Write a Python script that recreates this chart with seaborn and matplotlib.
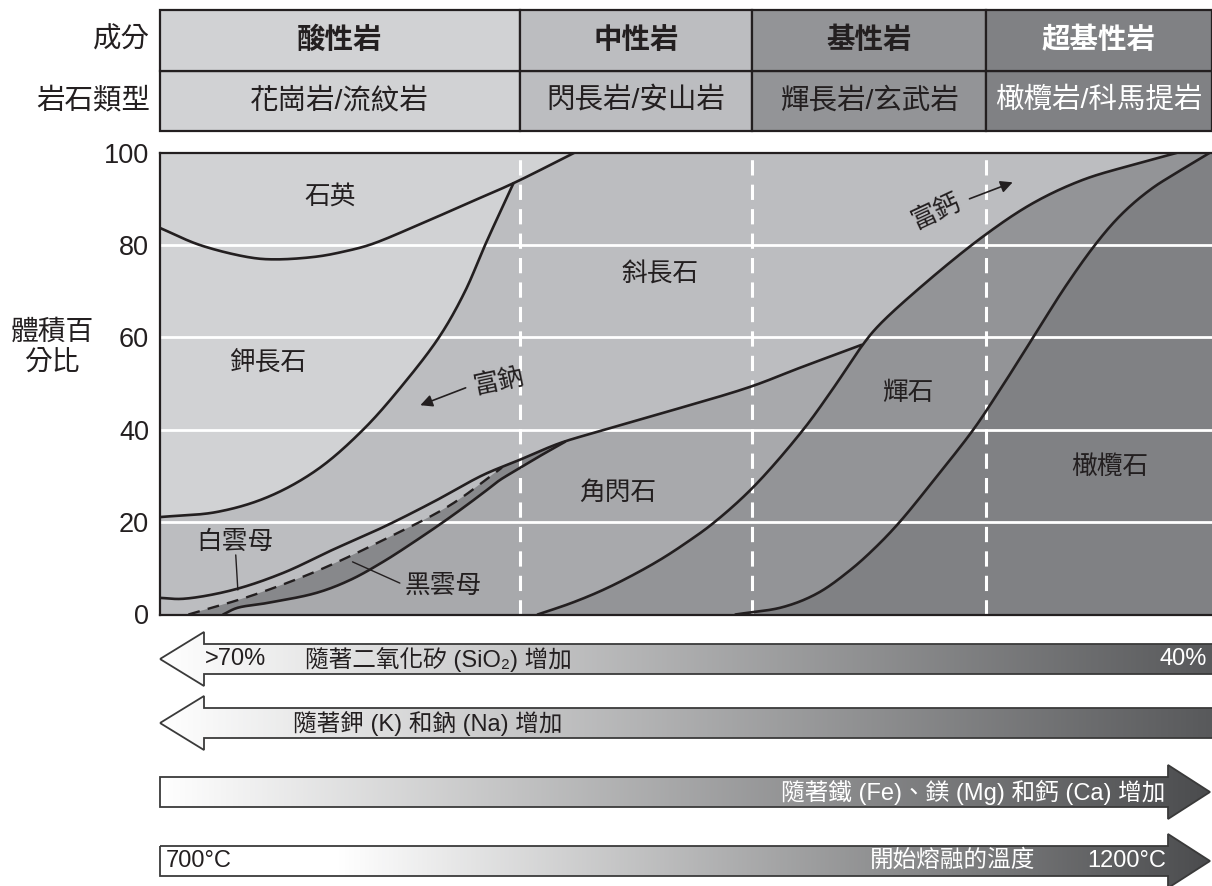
import numpy as np
import pandas as pd
import matplotlib
matplotlib.use("Agg")
import matplotlib.pyplot as plt
import seaborn as sns
from matplotlib.patches import Polygon, Rectangle
from matplotlib.colors import LinearSegmentedColormap

# ---------------- data ----------------
groups = ["酸性岩", "中性岩", "基性岩", "超基性岩"]
rock_types = ["花崗岩/流紋岩", "閃長岩/安山岩", "輝長岩/玄武岩", "橄欖岩/科馬提岩"]
group_bounds = [0, 34.2, 56.3, 78.5, 100]
group_colors = ["#d1d2d4", "#bcbdc0", "#939497", "#808184"]
y_ticks = [0, 20, 40, 60, 80, 100]

quartz_x = [0, 3.8, 8.6, 11.0, 14.9, 17.5, 20.0, 24.4, 29.2, 33.6, 39.4]
quartz_y = [83.7, 80.0, 77.3, 76.9, 77.5, 78.6, 80.1, 84.2, 89.0, 93.4, 100]

kfs_x = [0, 5.4, 10.2, 14.9, 19.3, 23.1, 26.6, 29.0, 30.9, 33.6]
kfs_y = [21.1, 22.2, 25.4, 31.3, 40.0, 49.8, 60.3, 70.0, 80.0, 93.4]

plag_x = [0, 2.2, 6.9, 11.7, 16.4, 21.2, 26.0, 30.7, 34.2, 38.0, 41.8, 48.2, 56.1, 60.8, 66.7]
plag_y = [3.6, 3.4, 5.3, 9.0, 14.0, 18.9, 24.4, 30.2, 33.5, 37.1, 39.7, 43.9, 49.3, 53.4, 58.4]

musc_x = [2.7, 8.6, 14.9, 21.2, 27.6, 32.5]
musc_y = [0, 4.0, 9.4, 16.1, 23.7, 31.8]

bt_x = [6.0, 7.3, 10.2, 14.9, 18.1, 21.2, 24.4, 27.6, 30.7, 32.3, 33.9, 36.1, 38.5]
bt_y = [0, 1.4, 2.5, 4.7, 7.5, 11.4, 16.1, 21.1, 26.3, 29.1, 31.3, 34.3, 37.4]

amph_x = [35.9, 39.0, 41.8, 44.5, 47.5, 50.0, 52.6, 56.4, 61.1, 64.0, 66.8, 68.2, 72.0, 78.2, 83.0, 87.7, 92.5, 96.7]
amph_y = [0, 2.4, 5.0, 8.0, 11.8, 15.5, 19.8, 27.6, 39.9, 49.0, 58.4, 62.3, 70.3, 81.8, 89.1, 94.1, 97.4, 100]

pyx_x = [54.7, 59.2, 62.5, 65.6, 68.0, 70.3, 73.7, 77.3, 79.8, 83.0, 86.0, 88.7, 90.7, 92.5, 94.5, 96.3, 99.8]
pyx_y = [0, 1.6, 4.6, 9.6, 14.5, 20.0, 29.5, 40.0, 48.5, 60.0, 70.8, 79.5, 85.0, 89.0, 92.6, 95.2, 100]

C_LIGHT, C_PLAG, C_AMPH, C_BT, C_PYX, C_OL = "#d1d2d4", "#bcbdc0", "#a8a9ac", "#87888b", "#939497", "#808184"
INK = "#231f20"

# ---------------- helpers ----------------
SX, SY = 10.52, 4.618  # axis units -> pixels, used only for curve smoothing


def catmull(xs, ys, n=30, alpha=0.5):
    P = np.column_stack([np.asarray(xs) * SX, np.asarray(ys) * SY]).astype(float)
    P = np.vstack([2 * P[0] - P[1], P, 2 * P[-1] - P[-2]])
    segs = []
    for i in range(1, len(P) - 2):
        p0, p1, p2, p3 = P[i - 1], P[i], P[i + 1], P[i + 2]
        t0 = 0.0
        t1 = t0 + np.linalg.norm(p1 - p0) ** alpha
        t2 = t1 + np.linalg.norm(p2 - p1) ** alpha
        t3 = t2 + np.linalg.norm(p3 - p2) ** alpha
        t = np.linspace(t1, t2, n, endpoint=False)[:, None]
        A1 = (t1 - t) / (t1 - t0) * p0 + (t - t0) / (t1 - t0) * p1
        A2 = (t2 - t) / (t2 - t1) * p1 + (t - t1) / (t2 - t1) * p2
        A3 = (t3 - t) / (t3 - t2) * p2 + (t - t2) / (t3 - t2) * p3
        B1 = (t2 - t) / (t2 - t0) * A1 + (t - t0) / (t2 - t0) * A2
        B2 = (t3 - t) / (t3 - t1) * A2 + (t - t1) / (t3 - t1) * A3
        C = (t2 - t) / (t2 - t1) * B1 + (t - t1) / (t2 - t1) * B2
        segs.append(C)
    segs.append(P[-2][None, :])
    s = np.vstack(segs)
    return s[:, 0] / SX, s[:, 1] / SY


sns.set_theme(style="white")
plt.rcParams["font.family"] = ["Liberation Sans", "Noto Sans CJK TC", "DejaVu Sans"]
plt.rcParams["text.color"] = INK

fig = plt.figure(figsize=(12.12, 8.86), dpi=100)
W, H = 1212, 886

# overlay axes in pixel coordinates for decorations
ax_o = fig.add_axes([0, 0, 1, 1], zorder=0)
ax_o.set_xlim(0, W)
ax_o.set_ylim(H, 0)
ax_o.axis("off")
ax_o.patch.set_alpha(0)

# main axes
ax = fig.add_axes([160 / W, 1 - 614.5 / H, 1052 / W, (614.5 - 152.7) / H], zorder=2)
ax.set_xlim(0, 100)
ax.set_ylim(0, 100)
ax.set_facecolor(C_OL)

qx, qy = catmull(quartz_x, quartz_y)
kx, ky = catmull(kfs_x, kfs_y)
px_, py_ = catmull(plag_x, plag_y)
mx, my = catmull(musc_x, musc_y)
bx, by = catmull(bt_x, bt_y)
ax_, ay_ = catmull(amph_x, amph_y)
ox, oy = catmull(pyx_x, pyx_y)


def poly(xs, ys, color, z=1):
    ax.add_patch(Polygon(np.column_stack([xs, ys]), closed=True, facecolor=color,
                         edgecolor="none", zorder=z))


# pyroxene
poly(np.r_[0, ox, 0], np.r_[0, oy, 100], C_PYX)
# amphibole
poly(np.r_[0, ax_, 0], np.r_[0, ay_, 100], C_AMPH)
# plagioclase
sel = ax_ >= plag_x[-1]
poly(np.r_[px_, ax_[sel], 0], np.r_[py_, ay_[sel], 100], C_PLAG)
# muscovite
m_end = musc_x[-1]
s1 = px_ <= m_end
poly(np.r_[0, mx, px_[s1][::-1]], np.r_[0, my, py_[s1][::-1]], C_PLAG)
# biotite
s2 = (px_ > m_end) & (px_ < bt_x[-1])
poly(np.r_[mx, px_[s2], bx[::-1]], np.r_[my, py_[s2], by[::-1]], C_BT)
# quartz + K-feldspar
s3 = qx > kfs_x[-1]
poly(np.r_[kx, qx[s3], 0], np.r_[ky, qy[s3], 100], C_LIGHT)

# grid
for yv in y_ticks[1:-1]:
    ax.axhline(yv, color="white", lw=2.0, zorder=2)
for xv in group_bounds[1:-1]:
    ax.axvline(xv, color="white", lw=2.2, linestyle=(0, (5, 3)), zorder=2)

# boundary lines
for cx, cy in [(qx, qy), (kx, ky), (px_, py_), (ax_, ay_), (ox, oy), (bx, by)]:
    sns.lineplot(x=cx, y=cy, sort=False, estimator=None, ax=ax, color=INK, lw=1.9, zorder=5)
sns.lineplot(x=mx, y=my, sort=False, estimator=None, ax=ax, color=INK, lw=1.7,
             linestyle=(0, (5, 3.5)), zorder=5)

# labels inside
lab_fs = 18.5
ax.text(16.2, 90.4, "石英", fontsize=lab_fs, ha="center", va="center", zorder=6)
ax.text(10.3, 54.5, "鉀長石", fontsize=lab_fs, ha="center", va="center", zorder=6)
ax.text(47.5, 73.5, "斜長石", fontsize=lab_fs, ha="center", va="center", zorder=6)
ax.text(43.5, 26.3, "角閃石", fontsize=lab_fs, ha="center", va="center", zorder=6)
ax.text(71.1, 48.0, "輝石", fontsize=lab_fs, ha="center", va="center", zorder=6)
ax.text(90.3, 31.9, "橄欖石", fontsize=lab_fs, ha="center", va="center", zorder=6)
ax.text(7.1, 15.7, "白雲母", fontsize=lab_fs, ha="center", va="center", zorder=6)
ax.text(26.9, 6.2, "黑雲母", fontsize=lab_fs, ha="center", va="center", zorder=6)
ax.text(32.2, 50.4, "富鈉", fontsize=lab_fs, ha="center", va="center", rotation=12, zorder=6)
ax.text(73.8, 87.2, "富鈣", fontsize=lab_fs, ha="center", va="center", rotation=25, zorder=6)
ax.annotate("", xy=(24.5, 45.1), xytext=(29.3, 49.3),
            arrowprops=dict(arrowstyle="-|>", color=INK, lw=1.2, mutation_scale=18), zorder=6)
ax.annotate("", xy=(81.3, 93.8), xytext=(76.7, 89.8),
            arrowprops=dict(arrowstyle="-|>", color=INK, lw=1.2, mutation_scale=18), zorder=6)
ax.plot([7.2, 7.4], [12.9, 5.3], color=INK, lw=1.0, zorder=6)
ax.plot([18.3, 22.8], [11.4, 6.8], color=INK, lw=1.0, zorder=6)

ax.set_xticks([])
ax.set_yticks(y_ticks)
ax.set_yticklabels([str(v) for v in y_ticks])
ax.tick_params(axis="y", length=0, pad=8, labelsize=19.5, colors=INK)
for side in ["left", "top", "bottom"]:
    ax.spines[side].set_visible(True)
    ax.spines[side].set_color(INK)
    ax.spines[side].set_linewidth(1.6)
ax.spines["right"].set_visible(False)
ax.set_xlabel("")
ax.set_ylabel("")

ax_o.text(52, 348, "體積百\n分比", fontsize=20, ha="center", va="center", linespacing=1.25)

# table axes
ax_t = fig.add_axes([160 / W, 1 - 131 / H, 1052 / W, 121 / H], zorder=2)
ax_t.set_xlim(0, 100)
ax_t.set_ylim(0, 2)
ax_t.axis("off")
for i in range(4):
    x0, x1 = group_bounds[i], group_bounds[i + 1]
    for r in range(2):
        ax_t.add_patch(Rectangle((x0, r), x1 - x0, 1, facecolor=group_colors[i],
                                 edgecolor=INK, lw=1.6, clip_on=False))
    tc = "white" if i == 3 else INK
    ax_t.text((x0 + x1) / 2, 1.5, groups[i], fontsize=20.5, fontweight="bold",
              ha="center", va="center", color=tc)
    ax_t.text((x0 + x1) / 2, 0.5, rock_types[i], fontsize=20.5,
              ha="center", va="center", color=tc)
ax_t.text(-0.95, 1.5, "成分", fontsize=20.5, ha="right", va="center")
ax_t.text(-0.95, 0.5, "岩石類型", fontsize=20.5, ha="right", va="center")


# gradient arrows
def grad_arrow(pts, cmap):
    patch = Polygon(pts, closed=True, facecolor="none", edgecolor="#3a3a3a", lw=1.3, zorder=3)
    ax_o.add_patch(patch)
    xs = [p[0] for p in pts]
    ys = [p[1] for p in pts]
    grad = np.linspace(0, 1, 512)[None, :]
    im = ax_o.imshow(grad, extent=(min(xs), max(xs), max(ys), min(ys)), cmap=cmap,
                     aspect="auto", zorder=2, interpolation="bilinear")
    im.set_clip_path(patch)


cm12 = LinearSegmentedColormap.from_list("c12", ["#ffffff", "#58595b"])
cm3 = LinearSegmentedColormap.from_list("c3", ["#ffffff", "#4b4c4e"])
cm4 = LinearSegmentedColormap.from_list("c4", [(0, "#ffffff"), (0.17, "#ffffff"), (1, "#4b4c4e")])


def left_arrow(cy):
    return [(160, cy), (204, cy - 27), (204, cy - 15), (1214, cy - 15), (1214, cy + 15),
            (204, cy + 15), (204, cy + 27)]


def right_arrow(cy):
    return [(160, cy - 15), (1168, cy - 15), (1168, cy - 27), (1210, cy), (1168, cy + 27),
            (1168, cy + 15), (160, cy + 15)]


grad_arrow(left_arrow(659), cm12)
grad_arrow(left_arrow(723), cm12)
grad_arrow(right_arrow(792), cm3)
grad_arrow(right_arrow(861), cm4)
ax_o.set_xlim(0, W)
ax_o.set_ylim(H, 0)

afs = 17
ax_o.text(205, 659, ">70%", fontsize=afs, ha="left", va="center", zorder=4)
ax_o.text(305, 659, "隨著二氧化矽 (SiO₂) 增加", fontsize=afs, ha="left", va="center", zorder=4)
ax_o.text(1207, 659, "40%", fontsize=afs, ha="right", va="center", color="white", zorder=4)
ax_o.text(293, 723, "隨著鉀 (K) 和鈉 (Na) 增加", fontsize=afs, ha="left", va="center", zorder=4)
ax_o.text(1165, 792, "隨著鐵 (Fe)、鎂 (Mg) 和鈣 (Ca) 增加", fontsize=afs, ha="right", va="center",
          color="white", zorder=4)
ax_o.text(166, 861, "700°C", fontsize=afs, ha="left", va="center", zorder=4)
ax_o.text(870, 861, "開始熔融的溫度", fontsize=afs, ha="left", va="center", color="white", zorder=4)
ax_o.text(1166, 861, "1200°C", fontsize=afs, ha="right", va="center", color="white", zorder=4)

fig.savefig("out.png", dpi=100)
